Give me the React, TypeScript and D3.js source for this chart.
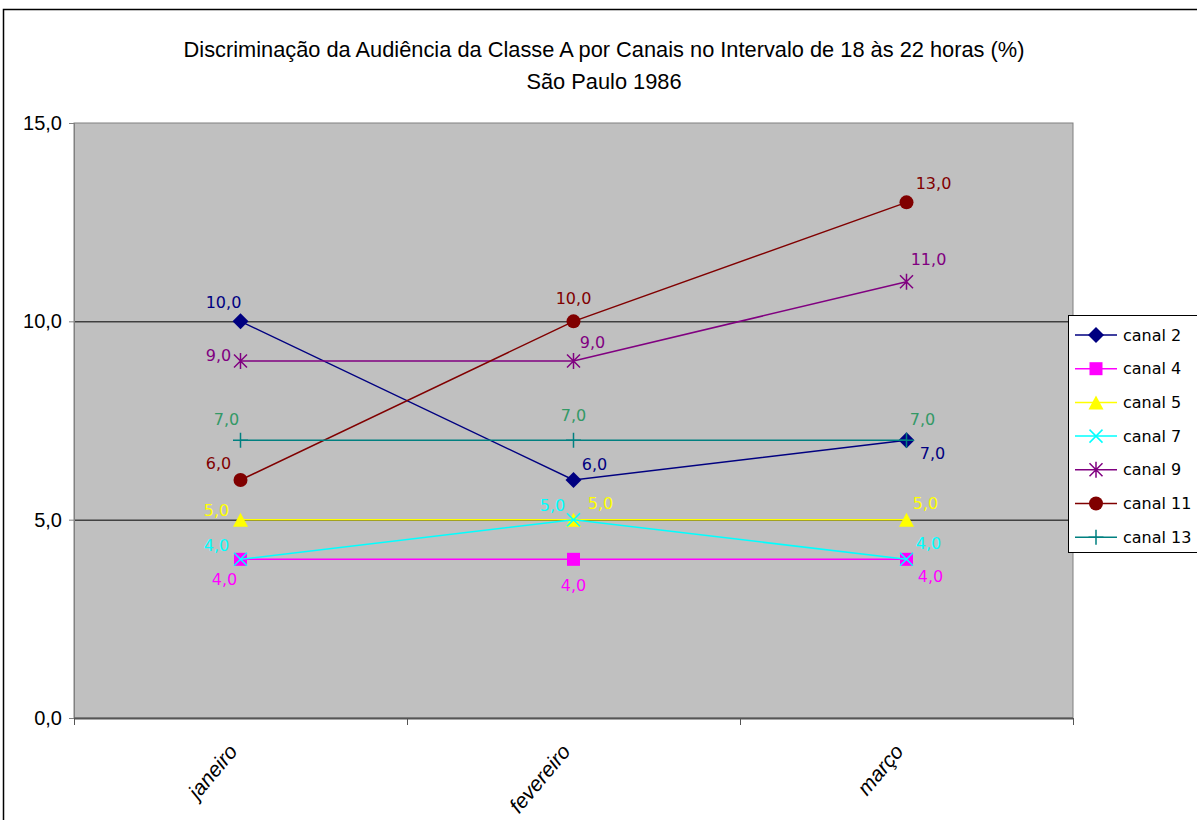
import React, { useEffect } from 'react';
import * as d3 from 'd3';

// Months on the category axis
const months = ['janeiro', 'fevereiro', 'março'];

// Audience share per channel (%)
const canal2 = [10, 6, 7];
const canal4 = [4, 4, 4];
const canal5 = [5, 5, 5];
const canal7 = [4, 5, 4];
const canal9 = [9, 9, 11];
const canal11 = [6, 10, 13];
const canal13 = [7, 7, 7];

const yTicks = [0, 5, 10, 15];

const titleLines = [
  'Discriminação da Audiência da Classe A por Canais no Intervalo de 18 às 22 horas (%)',
  'São Paulo 1986',
];

type Marker = 'diamond' | 'square' | 'triangle' | 'x' | 'star' | 'circle' | 'plus';

interface Series {
  name: string;
  values: number[];
  color: string;
  labelColor: string;
  marker: Marker;
}

const series: Series[] = [
  { name: 'canal 2', values: canal2, color: '#000080', labelColor: '#000080', marker: 'diamond' },
  { name: 'canal 4', values: canal4, color: '#FF00FF', labelColor: '#FF00FF', marker: 'square' },
  { name: 'canal 5', values: canal5, color: '#FFFF00', labelColor: '#FFFF00', marker: 'triangle' },
  { name: 'canal 7', values: canal7, color: '#00FFFF', labelColor: '#00FFFF', marker: 'x' },
  { name: 'canal 9', values: canal9, color: '#800080', labelColor: '#800080', marker: 'star' },
  { name: 'canal 11', values: canal11, color: '#800000', labelColor: '#800000', marker: 'circle' },
  { name: 'canal 13', values: canal13, color: '#008080', labelColor: '#339966', marker: 'plus' },
];

// where each value label sits relative to its point (layout only)
const labelOffsets: [number, number][][] = [
  [[-17, -19], [21, -16], [26, 13]],
  [[-16, 20], [0, 26], [24, 17]],
  [[-24, -9], [27, -16], [19, -16]],
  [[-24, -14], [-21, -14], [22, -16]],
  [[-22, -6], [19, -19], [22, -22]],
  [[-22, -17], [0, -23], [27, -19]],
  [[-14, -21], [0, -25], [16, -21]],
];

const fmt = (v: number) => v.toFixed(1).replace('.', ',');

const markerShape = (m: Marker, color: string, key: string) => {
  switch (m) {
    case 'diamond':
      return <path key={key} d="M0,-8L8,0L0,8L-8,0Z" fill={color} />;
    case 'square':
      return <rect key={key} x={-6.5} y={-6.5} width={13} height={13} fill={color} />;
    case 'triangle':
      return <path key={key} d="M0,-7L7.5,7L-7.5,7Z" fill={color} />;
    case 'circle':
      return <circle key={key} r={7} fill={color} />;
    case 'x':
      return <path key={key} d="M-6.5,-6.5L6.5,6.5M6.5,-6.5L-6.5,6.5" stroke={color} strokeWidth={1.5} fill="none" />;
    case 'plus':
      return <path key={key} d="M0,-7.5L0,7.5M-7.5,0L7.5,0" stroke={color} strokeWidth={1.5} fill="none" />;
    case 'star':
      return (
        <path
          key={key}
          d="M0,-8L0,8M-6.5,-6.5L6.5,6.5M6.5,-6.5L-6.5,6.5"
          stroke={color}
          strokeWidth={1.5}
          fill="none"
        />
      );
  }
};

const App: React.FC = () => {
  useEffect(() => {
    document.body.style.margin = '0';
  }, []);

  const width = 1197;
  const height = 820;
  const plot = { left: 74, right: 1073, top: 123, bottom: 718 };

  const x = d3
    .scaleBand<string>()
    .domain(months)
    .range([plot.left, plot.right])
    .paddingInner(0)
    .paddingOuter(0);
  const cx = (m: string) => (x(m) as number) + x.bandwidth() / 2;

  const y = d3.scaleLinear().domain([0, 15]).range([plot.bottom, plot.top]);

  const line = d3
    .line<number>()
    .x((_, i) => cx(months[i]))
    .y((d) => y(d));

  const boundaries = [...months.map((m) => x(m) as number), plot.right];

  const legend = { x: 1068, y: 315, w: 140, h: 237, rowH: 33.7 };
  const labelFont = '"DejaVu Sans", Verdana, sans-serif';
  const axisFont = '"Liberation Sans", Arial, sans-serif';

  return (
    <svg width={width} height={height} style={{ display: 'block', background: '#fff' }}>
      {/* chart border */}
      <rect x={3.5} y={9.5} width={1300} height={900} fill="none" stroke="#000" strokeWidth={1.5} />

      {/* title */}
      {titleLines.map((t, i) => (
        <text
          key={t}
          x={604}
          y={57 + i * 32}
          textAnchor="middle"
          fontFamily={axisFont}
          fontSize={21.8}
          fill="#000"
        >
          {t}
        </text>
      ))}

      {/* plot area */}
      <rect
        x={plot.left}
        y={plot.top}
        width={plot.right - plot.left}
        height={plot.bottom - plot.top}
        fill="#C0C0C0"
        stroke="#808080"
        strokeWidth={1}
      />

      {/* gridlines */}
      {yTicks
        .filter((t) => t > 0 && t < 15)
        .map((t) => (
          <line key={t} x1={plot.left} x2={plot.right} y1={y(t) + 0.5} y2={y(t) + 0.5} stroke="#000" strokeWidth={1} />
        ))}

      {/* y axis */}
      <line x1={plot.left + 0.5} x2={plot.left + 0.5} y1={plot.top} y2={plot.bottom} stroke="#808080" />
      {yTicks.map((t) => (
        <g key={t}>
          <line x1={plot.left - 5} x2={plot.left} y1={y(t) + 0.5} y2={y(t) + 0.5} stroke="#808080" />
          <text
            x={plot.left - 12}
            y={y(t)}
            textAnchor="end"
            dominantBaseline="central"
            fontFamily={axisFont}
            fontSize={20}
            fill="#000"
          >
            {fmt(t)}
          </text>
        </g>
      ))}

      {/* x axis */}
      <line x1={plot.left} x2={plot.right} y1={plot.bottom + 0.5} y2={plot.bottom + 0.5} stroke="#555" strokeWidth={2} />
      {boundaries.map((b, i) => (
        <line key={i} x1={b + 0.5} x2={b + 0.5} y1={plot.bottom} y2={plot.bottom + 7} stroke="#555" />
      ))}
      {months.map((m) => (
        <text
          key={m}
          transform={`translate(${cx(m) - 2},${plot.bottom + 34}) rotate(-50)`}
          textAnchor="end"
          fontFamily={axisFont}
          fontStyle="italic"
          fontSize={21}
          fill="#000"
        >
          {m}
        </text>
      ))}

      {/* series */}
      {series.map((s) => (
        <g key={s.name}>
          <path d={line(s.values) || ''} fill="none" stroke={s.color} strokeWidth={1.5} />
          {s.values.map((v, i) => (
            <g key={i} transform={`translate(${cx(months[i])},${y(v)})`}>
              {markerShape(s.marker, s.color, `${s.name}-${i}`)}
            </g>
          ))}
        </g>
      ))}

      {/* value labels */}
      {series.map((s, si) =>
        s.values.map((v, i) => (
          <text
            key={`${s.name}-l${i}`}
            x={cx(months[i]) + labelOffsets[si][i][0]}
            y={y(v) + labelOffsets[si][i][1]}
            textAnchor="middle"
            dominantBaseline="central"
            fontFamily={labelFont}
            fontSize={16}
            fill={s.labelColor}
          >
            {fmt(v)}
          </text>
        ))
      )}

      {/* legend */}
      <rect
        x={legend.x + 0.5}
        y={legend.y + 0.5}
        width={legend.w}
        height={legend.h}
        fill="#fff"
        stroke="#000"
        strokeWidth={1}
      />
      {series.map((s, i) => {
        const ly = legend.y + 20 + i * legend.rowH;
        return (
          <g key={s.name}>
            <line x1={legend.x + 7} x2={legend.x + 49} y1={ly} y2={ly} stroke={s.color} strokeWidth={1.5} />
            <g transform={`translate(${legend.x + 28},${ly})`}>{markerShape(s.marker, s.color, `lg-${s.name}`)}</g>
            <text
              x={legend.x + 55}
              y={ly}
              dominantBaseline="central"
              fontFamily={labelFont}
              fontSize={16}
              fill="#000"
            >
              {s.name}
            </text>
          </g>
        );
      })}
    </svg>
  );
};

export default App;
